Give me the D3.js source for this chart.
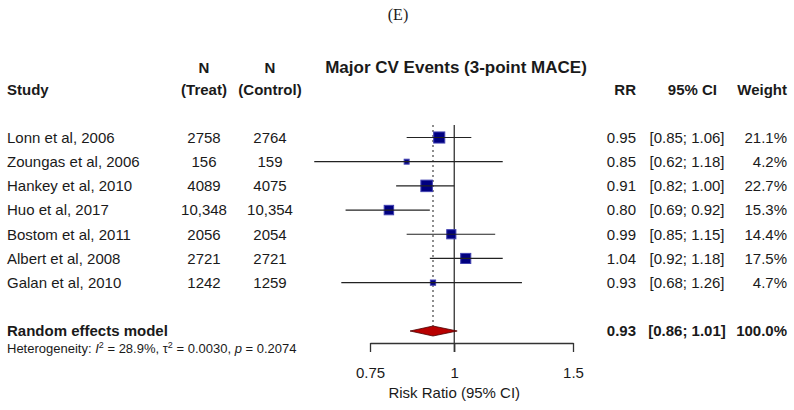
<!DOCTYPE html>
<html>
<head>
<meta charset="utf-8">
<script src="https://cdn.jsdelivr.net/npm/d3@7"></script>
<style>
  body { margin: 0; background: #fff; }
  svg text { font-family: "Liberation Sans", Arial, sans-serif; fill: #1a1a1a; }
</style>
</head>
<body>
<div id="chart"></div>
<script>
// study rows
var studies = ["Lonn et al, 2006", "Zoungas et al, 2006", "Hankey et al, 2010", "Huo et al, 2017",
               "Bostom et al, 2011", "Albert et al, 2008", "Galan et al, 2010"];
var nTreat = ["2758", "156", "4089", "10,348", "2056", "2721", "1242"];
var nControl = ["2764", "159", "4075", "10,354", "2054", "2721", "1259"];
var rr = [0.95, 0.85, 0.91, 0.80, 0.99, 1.04, 0.93];
var lower = [0.85, 0.62, 0.82, 0.69, 0.85, 0.92, 0.68];
var upper = [1.06, 1.18, 1.00, 0.92, 1.15, 1.18, 1.26];
var weight = [21.1, 4.2, 22.7, 15.3, 14.4, 17.5, 4.7];

// random effects model: estimate, lower, upper, weight
var pooled = [0.93, 0.86, 1.01, 100.0];
var xTicks = [0.75, 1, 1.5];

var w = 794, h = 410;
var svg = d3.select("#chart").append("svg")
    .attr("width", w)
    .attr("height", h);

var x = d3.scaleLog().domain([0.75, 1.5]).range([370, 573]);
// row positions, index 8 = summary row
var y = d3.scaleLinear().domain([0, 8]).range([137.5, 331]);
var sq = d3.scaleSqrt().domain([0, 22.7]).range([0, 11.5]);
var f2 = d3.format(".2f");
var f1 = d3.format(".1f");

// panel letter
svg.append("text")
    .attr("x", 398).attr("y", 20)
    .attr("text-anchor", "middle")
    .style("font-family", "'Liberation Serif', 'Times New Roman', serif")
    .style("font-size", "16px")
    .text("(E)");

// headers
svg.append("text").attr("x", 456).attr("y", 73).attr("text-anchor", "middle")
    .style("font-size", "17px").style("font-weight", "bold")
    .text("Major CV Events (3-point MACE)");

var head = [
    {t: "N", x: 204, y: 73, a: "middle"},
    {t: "N", x: 270, y: 73, a: "middle"},
    {t: "Study", x: 7, y: 95, a: "start"},
    {t: "(Treat)", x: 204, y: 95, a: "middle"},
    {t: "(Control)", x: 270, y: 95, a: "middle"},
    {t: "RR", x: 636, y: 95, a: "end"},
    {t: "95% CI", x: 717, y: 95, a: "end"},
    {t: "Weight", x: 787, y: 95, a: "end"}
];
svg.selectAll("text.head")
    .data(head)
    .enter()
    .append("text")
    .attr("class", "head")
    .attr("x", function(d) { return d.x })
    .attr("y", function(d) { return d.y })
    .attr("text-anchor", function(d) { return d.a })
    .style("font-size", "15px")
    .style("font-weight", "bold")
    .text(function(d) { return d.t });

// text columns for each study
var rows = svg.selectAll("g.row")
    .data(studies)
    .enter()
    .append("g")
    .attr("class", "row")
    .attr("transform", function(d, i) { return "translate(0," + y(i) + ")" })
    .style("font-size", "15px");

function col(sel, xx, anchor, fn) {
    sel.append("text")
        .attr("x", xx)
        .attr("dy", "0.36em")
        .attr("text-anchor", anchor)
        .text(fn);
}
col(rows, 7, "start", function(d) { return d });
col(rows, 204, "middle", function(d, i) { return nTreat[i] });
col(rows, 270, "middle", function(d, i) { return nControl[i] });
col(rows, 636, "end", function(d, i) { return f2(rr[i]) });
col(rows, 687, "middle", function(d, i) { return "[" + f2(lower[i]) + "; " + f2(upper[i]) + "]" });
col(rows, 787, "end", function(d, i) { return f1(weight[i]) + "%" });

// summary row text
var sum = svg.append("g")
    .attr("transform", "translate(0," + y(8) + ")")
    .style("font-size", "15px")
    .style("font-weight", "bold");
col(sum, 7, "start", "Random effects model");
col(sum, 636, "end", f2(pooled[0]));
col(sum, 687, "middle", "[" + f2(pooled[1]) + "; " + f2(pooled[2]) + "]");
col(sum, 787, "end", f1(pooled[3]) + "%");

// heterogeneity line
var het = svg.append("text")
    .attr("x", 7).attr("y", 353)
    .style("font-size", "13px");
het.append("tspan").text("Heterogeneity: ");
het.append("tspan").style("font-style", "italic").text("I");
het.append("tspan").attr("baseline-shift", "super").style("font-size", "9px").text("2");
het.append("tspan").text(" = 28.9%, \u03c4");
het.append("tspan").attr("baseline-shift", "super").style("font-size", "9px").text("2");
het.append("tspan").text(" = 0.0030, ");
het.append("tspan").style("font-style", "italic").text("p");
het.append("tspan").text(" = 0.2074");

// axis
var axisY = 343;
var axis = svg.append("g")
    .attr("transform", "translate(0," + axisY + ")")
    .call(d3.axisBottom(x).tickValues(xTicks).tickSize(9).tickSizeOuter(0).tickPadding(15)
        .tickFormat(function(d) { return String(d) }));
axis.select(".domain").attr("stroke", "#333").attr("stroke-width", 1.3);
axis.selectAll(".tick line").attr("stroke", "#333").attr("stroke-width", 1.3);
axis.selectAll(".tick text")
    .style("font-family", "'Liberation Sans', Arial, sans-serif")
    .style("font-size", "15px")
    .attr("fill", "#1a1a1a");

svg.append("text")
    .attr("x", x(1)).attr("y", 398)
    .attr("text-anchor", "middle")
    .style("font-size", "15px")
    .text("Risk Ratio (95% CI)");

// reference line at 1 and dotted line at pooled estimate
svg.append("line")
    .attr("x1", x(1)).attr("x2", x(1))
    .attr("y1", 125).attr("y2", axisY + 9)
    .attr("stroke", "#333").attr("stroke-width", 1.3);

svg.append("line")
    .attr("x1", x(pooled[0])).attr("x2", x(pooled[0]))
    .attr("y1", 125).attr("y2", y(8) - 5)
    .attr("stroke", "#444").attr("stroke-width", 1.2)
    .attr("stroke-dasharray", "2,3");

// study squares and CI lines
svg.selectAll("rect.box")
    .data(rr)
    .enter()
    .append("rect")
    .attr("class", "box")
    .attr("x", function(d, i) { return x(d) - sq(weight[i]) / 2 })
    .attr("y", function(d, i) { return y(i) - sq(weight[i]) / 2 })
    .attr("width", function(d, i) { return sq(weight[i]) })
    .attr("height", function(d, i) { return sq(weight[i]) })
    .attr("fill", "#000080")
    .attr("stroke", "#4040b0")
    .attr("stroke-width", 1);

svg.selectAll("line.ci")
    .data(rr)
    .enter()
    .append("line")
    .attr("class", "ci")
    .attr("x1", function(d, i) { return x(lower[i]) })
    .attr("x2", function(d, i) { return x(upper[i]) })
    .attr("y1", function(d, i) { return y(i) })
    .attr("y2", function(d, i) { return y(i) })
    .attr("stroke", "#222")
    .attr("stroke-width", 1.2);

// diamond for pooled estimate
var dy = y(8), dh = 5;
svg.append("path")
    .attr("d", "M" + x(pooled[1]) + "," + dy +
               "L" + x(pooled[0]) + "," + (dy - dh) +
               "L" + x(pooled[2]) + "," + dy +
               "L" + x(pooled[0]) + "," + (dy + dh) + "Z")
    .attr("fill", "#b80000")
    .attr("stroke", "#4a0000")
    .attr("stroke-width", 0.8);
</script>
</body>
</html>
